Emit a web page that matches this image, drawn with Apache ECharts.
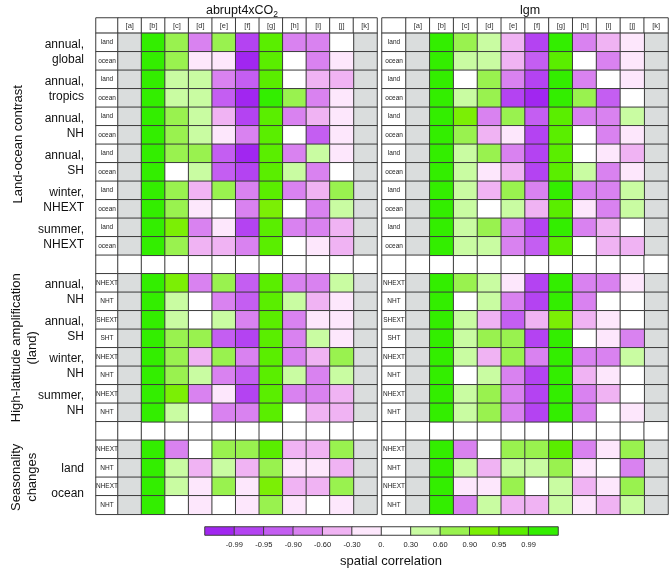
<!DOCTYPE html>
<html>
<head>
<meta charset="utf-8">
<script src="https://cdn.jsdelivr.net/npm/echarts@6/dist/echarts.min.js"></script>
<style>
html, body { margin: 0; padding: 0; background: #fff; }
#main { width: 670px; height: 568px; }
</style>
</head>
<body>
<div id="main"></div>
<script>
// 列与行
var columns = ['[a]', '[b]', '[c]', '[d]', '[e]', '[f]', '[g]', '[h]', '[i]', '[j]', '[k]'];
var rowTags = ['land', 'ocean', 'land', 'ocean', 'land', 'ocean', 'land', 'ocean', 'land', 'ocean', 'land', 'ocean', '',
    'NHEXT', 'NHT', 'SHEXT', 'SHT', 'NHEXT', 'NHT', 'NHEXT', 'NHT', '',
    'NHEXT', 'NHT', 'NHEXT', 'NHT'];
// [a] 和 [k] 两列没有数据
var missingCols = [0, 10];

// 色标
var binEdges = [-0.99, -0.95, -0.90, -0.60, -0.30, 0, 0.30, 0.60, 0.90, 0.95, 0.99];
var tickLabels = ['-0.99', '-0.95', '-0.90', '-0.60', '-0.30', '0.', '0.30', '0.60', '0.90', '0.95', '0.99'];
var levels = [-0.995, -0.97, -0.92, -0.75, -0.45, -0.15, 0.15, 0.45, 0.75, 0.92, 0.97, 0.995];
var binColors = ['#a126f0', '#b443f2', '#c45ef2', '#d982f0', '#f0b3f3', '#fde7fc', '#ffffff',
    '#c9fca2', '#99f24f', '#7bef05', '#5aee00', '#33ee00'];

// abrupt4xCO2, 列 [b]..[j]
var co2Rows = [
    [0.995, 0.75, -0.75, 0.75, -0.97, 0.97, -0.75, -0.75, 0.15],
    [0.995, 0.75, -0.15, -0.15, -0.995, 0.97, 0.15, -0.75, -0.15],
    [0.995, 0.45, 0.45, -0.75, -0.92, 0.97, 0.15, -0.45, -0.45],
    [0.995, 0.45, 0.45, -0.92, -0.995, 0.995, 0.75, -0.75, -0.15],
    [0.995, 0.75, 0.45, -0.45, -0.97, 0.97, -0.75, -0.45, -0.15],
    [0.995, 0.75, 0.45, -0.15, -0.75, 0.97, 0.15, -0.92, -0.15],
    [0.995, 0.75, 0.75, -0.92, -0.995, 0.97, -0.75, 0.45, -0.15],
    [0.995, 0.15, 0.45, -0.92, -0.97, 0.97, 0.45, -0.75, 0.15],
    [0.995, 0.75, -0.45, 0.75, -0.75, 0.97, -0.75, -0.45, 0.75],
    [0.995, 0.75, -0.15, 0.15, -0.75, 0.92, 0.15, -0.75, 0.45],
    [0.995, 0.92, -0.75, -0.15, -0.97, 0.97, -0.75, -0.75, -0.45],
    [0.995, 0.75, -0.45, -0.45, -0.75, 0.97, 0.15, -0.15, -0.45],
    null,
    [0.995, 0.92, -0.75, 0.75, -0.92, 0.97, -0.75, -0.75, 0.45],
    [0.995, 0.45, 0.15, -0.75, -0.92, 0.97, 0.45, -0.45, -0.15],
    [0.995, 0.45, 0.15, 0.45, -0.75, 0.97, -0.75, -0.15, -0.15],
    [0.995, 0.75, 0.75, -0.92, -0.97, 0.97, -0.75, 0.45, -0.15],
    [0.995, 0.75, -0.45, 0.75, -0.75, 0.97, -0.75, -0.45, 0.75],
    [0.995, 0.75, 0.45, -0.75, -0.92, 0.97, 0.45, -0.75, 0.45],
    [0.995, 0.92, -0.75, -0.15, -0.97, 0.97, -0.75, -0.75, -0.45],
    [0.995, 0.45, 0.15, -0.75, -0.75, 0.97, 0.15, -0.45, -0.45],
    null,
    [0.995, -0.75, 0.15, 0.75, 0.75, 0.97, -0.45, -0.45, 0.75],
    [0.995, 0.45, -0.45, 0.45, -0.45, 0.75, -0.15, -0.15, -0.45],
    [0.995, 0.45, -0.15, 0.75, -0.15, 0.92, -0.45, -0.45, 0.75],
    [0.995, 0.15, -0.15, 0.15, -0.15, 0.75, -0.15, 0.15, -0.15]
];

// lgm, 列 [b]..[j]
var lgmRows = [
    [0.995, 0.75, 0.45, -0.45, -0.97, 0.995, -0.75, -0.45, -0.15],
    [0.995, 0.45, 0.45, -0.45, -0.92, 0.97, 0.15, -0.75, -0.15],
    [0.995, 0.15, 0.75, -0.75, -0.97, 0.995, -0.75, 0.15, -0.15],
    [0.995, 0.45, 0.75, -0.97, -0.995, 0.995, 0.75, -0.92, 0.15],
    [0.995, 0.92, -0.75, 0.75, -0.92, 0.97, -0.75, -0.75, 0.45],
    [0.995, 0.75, -0.45, -0.15, -0.97, 0.97, 0.15, -0.75, -0.15],
    [0.995, 0.45, 0.75, -0.75, -0.97, 0.97, 0.15, -0.15, -0.45],
    [0.995, 0.45, -0.15, -0.45, -0.97, 0.97, 0.45, -0.75, -0.15],
    [0.995, 0.45, -0.45, 0.75, -0.75, 0.995, -0.75, -0.75, 0.45],
    [0.995, 0.45, 0.15, 0.45, -0.45, 0.97, -0.15, -0.75, 0.45],
    [0.995, 0.45, 0.75, -0.75, -0.97, 0.995, -0.75, -0.45, 0.15],
    [0.995, 0.45, 0.45, -0.75, -0.92, 0.97, 0.15, -0.45, -0.45],
    null,
    [0.995, 0.75, 0.45, -0.15, -0.97, 0.995, -0.75, -0.75, -0.15],
    [0.995, 0.15, 0.45, -0.75, -0.97, 0.995, -0.75, 0.15, 0.15],
    [0.995, 0.45, -0.45, -0.92, -0.45, 0.92, -0.45, -0.15, 0.15],
    [0.995, 0.45, 0.75, 0.75, -0.97, 0.995, 0.15, -0.15, -0.75],
    [0.995, 0.45, -0.45, 0.75, -0.75, 0.995, -0.75, -0.75, 0.45],
    [0.995, 0.15, 0.45, -0.75, -0.97, 0.995, -0.45, -0.15, 0.15],
    [0.995, 0.45, 0.75, -0.75, -0.97, 0.995, -0.75, -0.45, 0.15],
    [0.995, 0.45, 0.75, -0.75, -0.97, 0.995, -0.75, 0.15, -0.15],
    null,
    [0.995, -0.75, 0.15, 0.75, 0.75, 0.97, -0.75, -0.15, 0.75],
    [0.995, 0.45, -0.45, 0.45, 0.45, 0.75, -0.15, 0.15, -0.75],
    [0.995, -0.15, -0.15, 0.75, 0.15, 0.45, -0.45, -0.15, 0.75],
    [0.995, -0.75, 0.45, -0.45, -0.45, 0.45, -0.15, -0.45, 0.45]
];

// 行组标签 [文字, 首行, 垂直偏移]
var groupLabels = [
    ['annual,\nglobal', 0, 0], ['annual,\ntropics', 2, 0], ['annual,\nNH', 4, 0], ['annual,\nSH', 6, 0],
    ['winter,\nNHEXT', 8, 0], ['summer,\nNHEXT', 10, 0],
    ['annual,\nNH', 13, 0], ['annual,\nSH', 15, 0], ['winter,\nNH', 17, 0], ['summer,\nNH', 19, 0],
    ['land', 22, 10], ['ocean', 24, -2]
];
var sectionLabels = [
    ['Land-ocean contrast', 0, 12, 18],
    ['High-latitude amplification\n(land)', 13, 21, 24],
    ['Seasonality\nchanges', 22, 26, 24]
];

var FONT = 'Liberation Sans, Arial, Helvetica, sans-serif';
var headTop = 18, headH = 15, bodyTop = 33.3, rowH = 18.5;
var bodyH = rowH * rowTags.length;
var GREY = '#dadddd', BORDER = '#3c3c3c';

var myChart = echarts.init(document.getElementById('main'));

var grids = [], xAxes = [], yAxes = [], series = [], valueSeries = [];

function cellStyle(color) {
    return {color: color, borderColor: BORDER, borderWidth: 1};
}

function addPanel(x, labelW, dataW, rows) {
    var g = grids.length;
    grids.push({left: x, top: headTop, width: labelW, height: headH});
    grids.push({left: x + labelW, top: headTop, width: dataW, height: headH});
    grids.push({left: x, top: bodyTop, width: labelW, height: bodyH});
    grids.push({left: x + labelW, top: bodyTop, width: dataW, height: bodyH});
    var rowIdx = rowTags.map(function (t, i) { return i; });
    [[''], columns, [''], columns].forEach(function (d, k) {
        xAxes.push({type: 'category', gridIndex: g + k, data: d, show: false});
    });
    [[''], [''], rowIdx, rowIdx].forEach(function (d, k) {
        yAxes.push({type: 'category', gridIndex: g + k, data: d, show: false, inverse: true});
    });
    var base = {type: 'heatmap', emphasis: {disabled: true}, itemStyle: cellStyle('#fff')};
    // 左上角
    series.push(Object.assign({}, base, {xAxisIndex: g, yAxisIndex: g, data: [[0, 0, 0]]}));
    // 表头
    series.push(Object.assign({}, base, {
        xAxisIndex: g + 1, yAxisIndex: g + 1,
        data: columns.map(function (c, i) { return [i, 0, 0]; }),
        label: {show: true, fontSize: 7.5, color: '#333', fontFamily: FONT,
            formatter: function (p) { return columns[p.data[0]]; }}
    }));
    // 子标签列
    series.push(Object.assign({}, base, {
        xAxisIndex: g + 2, yAxisIndex: g + 2,
        data: rowTags.map(function (t, i) { return [0, i, 0]; }),
        label: {show: true, fontSize: 6.5, color: '#222', fontFamily: FONT,
            formatter: function (p) { return rowTags[p.data[1]]; }}
    }));
    // 空行和无数据列
    var fixed = [], vals = [];
    rows.forEach(function (r, i) {
        if (!r) {
            columns.forEach(function (c, j) { fixed.push({value: [j, i, 0], itemStyle: {color: '#fff'}}); });
            return;
        }
        missingCols.forEach(function (j) { fixed.push({value: [j, i, 0], itemStyle: {color: GREY}}); });
        r.forEach(function (v, j) { vals.push([j + 1, i, v]); });
    });
    series.push(Object.assign({}, base, {xAxisIndex: g + 3, yAxisIndex: g + 3, data: fixed}));
    valueSeries.push(series.length);
    series.push(Object.assign({}, base, {xAxisIndex: g + 3, yAxisIndex: g + 3, data: vals}));
}

addPanel(96, 22, 259, co2Rows);
addPanel(382, 24, 262, lgmRows);

// 色标条
var cb = grids.length;
grids.push({left: 205, top: 527, width: 353, height: 8});
xAxes.push({type: 'category', gridIndex: cb, position: 'top', data: levels.map(String), show: false});
xAxes.push({
    type: 'value', gridIndex: cb, position: 'bottom', min: 0, max: 12, interval: 1,
    axisLine: {show: false}, axisTick: {show: false}, splitLine: {show: false},
    axisLabel: {fontSize: 7.5, color: '#222', margin: 6, fontFamily: FONT,
        formatter: function (v) { return (v >= 1 && v <= 11) ? tickLabels[v - 1] : ''; }}
});
yAxes.push({type: 'category', gridIndex: cb, data: [''], show: false});
valueSeries.push(series.length);
series.push({
    type: 'heatmap', xAxisIndex: xAxes.length - 2, yAxisIndex: yAxes.length - 1,
    emphasis: {disabled: true}, itemStyle: cellStyle('#fff'),
    data: levels.map(function (v, i) { return [i, 0, v]; })
});

var pieces = binColors.map(function (c, i) {
    var p = {color: c};
    if (i > 0) p.gte = binEdges[i - 1];
    if (i < binEdges.length) p.lt = binEdges[i];
    return p;
});

var graphics = [];
groupLabels.forEach(function (g) {
    graphics.push({
        type: 'text', x: 84, y: bodyTop + (g[1] + 1) * rowH + g[2],
        style: {text: g[0], font: '12px ' + FONT, fill: '#111', align: 'right',
            verticalAlign: 'middle', lineHeight: 15}
    });
});
sectionLabels.forEach(function (s) {
    graphics.push({
        type: 'text', x: s[3], y: bodyTop + (s[1] + s[2]) / 2 * rowH, rotation: Math.PI / 2,
        style: {text: s[0], font: '13px ' + FONT, fill: '#111', align: 'center',
            verticalAlign: 'middle', lineHeight: 16}
    });
});
graphics.push({
    type: 'text', x: 391, y: 561,
    style: {text: 'spatial correlation', font: '13px ' + FONT, fill: '#111', align: 'center', verticalAlign: 'middle'}
});

var option = {
    animation: false,
    title: [
        {text: '{n|abrupt4xCO}{s|2}', left: 237, top: -2, textAlign: 'center',
            textStyle: {fontWeight: 'normal',
                rich: {n: {fontSize: 12.5, fontFamily: FONT, fontWeight: 'normal', color: '#111', lineHeight: 16},
                    s: {fontSize: 8.5, fontFamily: FONT, fontWeight: 'normal', color: '#111', lineHeight: 16, verticalAlign: 'bottom'}}}},
        {text: 'lgm', left: 525, top: -2, textAlign: 'center',
            textStyle: {fontSize: 12.5, fontFamily: FONT, color: '#111', fontWeight: 'normal', lineHeight: 16}}
    ],
    grid: grids,
    xAxis: xAxes,
    yAxis: yAxes,
    visualMap: {type: 'piecewise', show: false, dimension: 2, seriesIndex: valueSeries, pieces: pieces},
    graphic: graphics,
    series: series
};

myChart.setOption(option);
</script>
</body>
</html>
